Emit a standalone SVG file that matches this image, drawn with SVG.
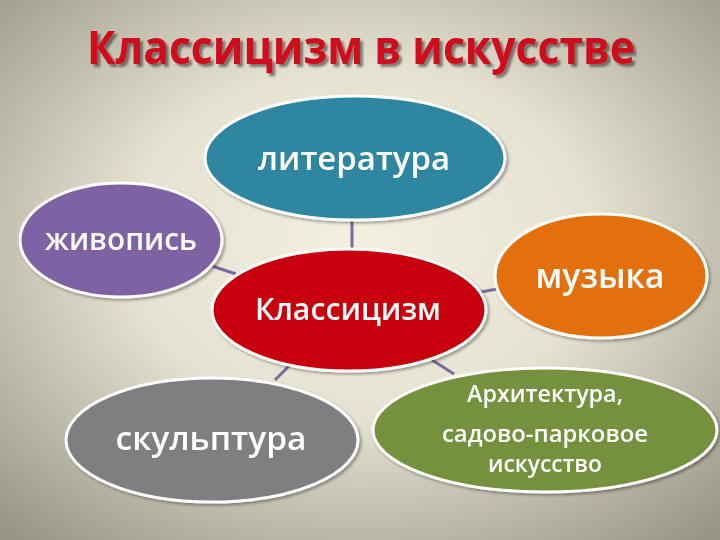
<svg xmlns="http://www.w3.org/2000/svg" width="720" height="540" viewBox="0 0 720 540">
<defs>
<radialGradient id="bg" cx="50%" cy="45%" r="72%">
<stop offset="0" stop-color="#f4f0e1"/>
<stop offset="0.45" stop-color="#e6e2d2"/>
<stop offset="1" stop-color="#999686"/>
</radialGradient>
<filter id="sh" x="-10%" y="-10%" width="130%" height="130%">
<feGaussianBlur in="SourceAlpha" stdDeviation="1.5"/>
<feOffset dx="2" dy="2" result="o"/>
<feComponentTransfer><feFuncA type="linear" slope="0.35"/></feComponentTransfer>
<feMerge><feMergeNode/><feMergeNode in="SourceGraphic"/></feMerge>
</filter>
<filter id="tsh" x="-5%" y="-20%" width="110%" height="150%">
<feGaussianBlur in="SourceAlpha" stdDeviation="1"/>
<feOffset dx="2.5" dy="2.5"/>
<feComponentTransfer><feFuncA type="linear" slope="0.45"/></feComponentTransfer>
<feMerge><feMergeNode/><feMergeNode in="SourceGraphic"/></feMerge>
</filter>
</defs>
<style>
.node{stroke:#ffffff;stroke-width:3}
.lbl{font-family:"Open Sans","DejaVu Sans",sans-serif;font-weight:600;fill:#ffffff;text-anchor:middle}
.con{stroke:#7b6c9c;stroke-width:3;fill:none}
</style>
<rect width="720" height="540" fill="url(#bg)"/>
<g id="title" filter="url(#tsh)">
<text x="361" y="64" font-family="'Open Sans','DejaVu Sans',sans-serif" font-weight="700" font-size="46" fill="#d0101c" text-anchor="middle" textLength="548" lengthAdjust="spacingAndGlyphs">Классицизм в искусстве</text>
</g>
<g id="connectors">
<line class="con" x1="352" y1="220" x2="352" y2="249"/>
<line class="con" x1="212" y1="266" x2="236" y2="274"/>
<line class="con" x1="481" y1="292" x2="497" y2="289"/>
<line class="con" x1="275" y1="380" x2="290" y2="365"/>
<line class="con" x1="432" y1="360" x2="454" y2="374"/>
</g>
<g id="n-literatura" filter="url(#sh)">
<ellipse class="node" cx="355" cy="158" rx="150" ry="62" fill="#2e86a0"/>
<text class="lbl" x="354" y="170" font-size="32" textLength="192" lengthAdjust="spacingAndGlyphs">литература</text>
</g>
<g id="n-zhivopis" filter="url(#sh)">
<ellipse class="node" cx="121" cy="240" rx="101" ry="57" fill="#7e62a4"/>
<text class="lbl" x="121" y="250" font-size="30" textLength="152" lengthAdjust="spacingAndGlyphs">живопись</text>
</g>
<g id="n-klassicizm" filter="url(#sh)">
<ellipse class="node" cx="349" cy="310" rx="137" ry="61" fill="#c8000a"/>
<text class="lbl" x="348" y="320" font-size="31" textLength="186" lengthAdjust="spacingAndGlyphs">Классицизм</text>
</g>
<g id="n-muzyka" filter="url(#sh)">
<ellipse class="node" cx="601" cy="276" rx="106" ry="62" fill="#e4700f"/>
<text class="lbl" x="600" y="288" font-size="35" textLength="129" lengthAdjust="spacingAndGlyphs">музыка</text>
</g>
<g id="n-skulptura" filter="url(#sh)">
<ellipse class="node" cx="212" cy="440" rx="146" ry="62" fill="#7f7f82"/>
<text class="lbl" x="211" y="450" font-size="32" textLength="191" lengthAdjust="spacingAndGlyphs">скульптура</text>
</g>
<g id="n-arhitektura" filter="url(#sh)">
<ellipse class="node" cx="545" cy="430" rx="172" ry="62" fill="#75913c"/>
<text class="lbl" x="545" y="402" font-size="23" textLength="156" lengthAdjust="spacingAndGlyphs">Архитектура,</text>
<text class="lbl" x="545" y="442" font-size="23" textLength="206" lengthAdjust="spacingAndGlyphs">садово-парковое</text>
<text class="lbl" x="545" y="472" font-size="23" textLength="114" lengthAdjust="spacingAndGlyphs">искусство</text>
</g>
</svg>
